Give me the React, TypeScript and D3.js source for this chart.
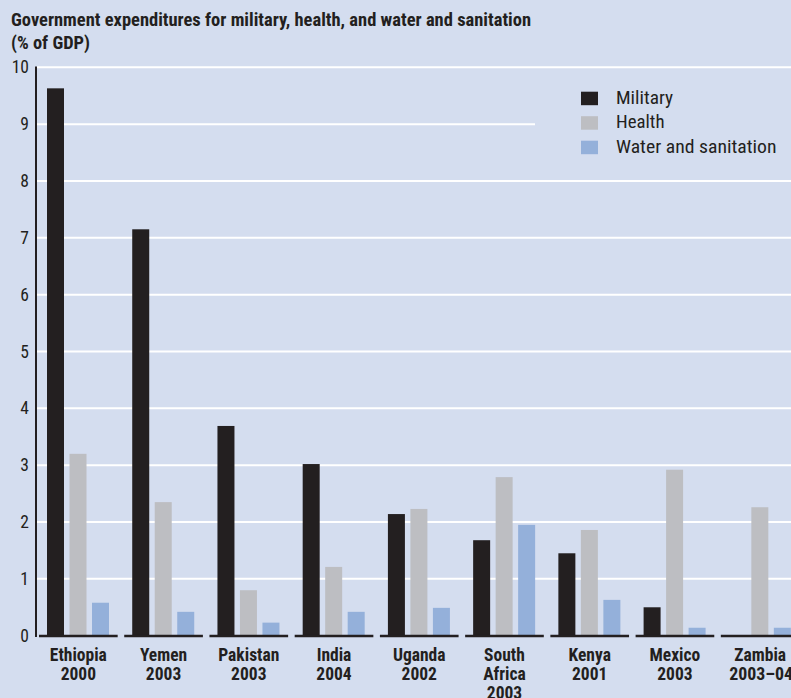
import React from "react";
import * as d3 from "d3";

const categories = [
  ["Ethiopia", "2000"],
  ["Yemen", "2003"],
  ["Pakistan", "2003"],
  ["India", "2004"],
  ["Uganda", "2002"],
  ["South", "Africa", "2003"],
  ["Kenya", "2001"],
  ["Mexico", "2003"],
  ["Zambia", "2003–04"],
];
const military = [9.63, 7.15, 3.69, 3.02, 2.14, 1.68, 1.45, 0.5, 0];
const health = [3.2, 2.35, 0.8, 1.21, 2.23, 2.79, 1.86, 2.92, 2.26];
const water = [0.58, 0.42, 0.23, 0.42, 0.49, 1.95, 0.63, 0.14, 0.14];
const seriesNames = ["Military", "Health", "Water and sanitation"];
const seriesColors = ["#231f20", "#bdbec2", "#94b0da"];
const yTicks = [0, 1, 2, 3, 4, 5, 6, 7, 8, 9, 10];
const titleLines = [
  "Government expenditures for military, health, and water and sanitation",
  "(% of GDP)",
];

const W = 791;
const H = 698;
const FONT = "'Liberation Sans Narrow', 'Roboto Condensed', 'Arial Narrow', sans-serif";
const legendWidths = [57, 48.5, 160.5];

export default function App() {
  const y = d3.scaleLinear().domain([0, 10]).range([635.7, 67.3]);
  const x0 = d3
    .scaleBand<number>()
    .domain(d3.range(categories.length))
    .range([39, 39 + 84.5 * 9])
    .paddingInner(6.5 / 84.5)
    .paddingOuter(0);
  const x1 = d3
    .scaleBand<number>()
    .domain([0, 1, 2])
    .range([8, 70])
    .paddingInner(5.5 / 22.5)
    .paddingOuter(0);
  const series = [military, health, water];

  return (
    <svg
      width={W}
      height={H}
      style={{ position: "absolute", left: 0, top: 0, display: "block" }}
      fontFamily={FONT}
    >
      <rect x={0} y={0} width={W} height={H} fill="#d4ddef" />
      <text
        x={11}
        y={26}
        fontSize={18}
        fontWeight="bold"
        fill="#231f20"
        textLength={520}
        lengthAdjust="spacingAndGlyphs"
      >
        {titleLines[0]}
      </text>
      <text x={11} y={49} fontSize={18} fontWeight="bold" fill="#231f20" textLength={79} lengthAdjust="spacingAndGlyphs">
        {titleLines[1]}
      </text>
      {yTicks.map((t) =>
        t === 0 ? null : (
          <line
            key={"g" + t}
            x1={37}
            x2={t === 9 ? 535 : W}
            y1={y(t)}
            y2={y(t)}
            stroke="#ffffff"
            strokeWidth={2}
          />
        )
      )}
      {yTicks.map((t) => (
        <text
          key={"t" + t}
          x={29}
          y={y(t) + 6}
          textAnchor="end"
          fontSize={17.5}
          fill="#231f20"
        >
          {t}
        </text>
      ))}
      {series.map((vals, si) =>
        vals.map((v, i) =>
          v > 0 ? (
            <rect
              key={si + "-" + i}
              x={(x0(i) as number) + (x1(si) as number)}
              y={y(v)}
              width={x1.bandwidth()}
              height={y(0) - y(v)}
              fill={seriesColors[si]}
            />
          ) : null
        )
      )}
      <line x1={36} x2={36} y1={66.5} y2={637} stroke="#231f20" strokeWidth={2} />
      {categories.map((c, i) => (
        <line
          key={"b" + i}
          x1={x0(i) as number}
          x2={(x0(i) as number) + x0.bandwidth()}
          y1={636}
          y2={636}
          stroke="#231f20"
          strokeWidth={2.5}
        />
      ))}
      {categories.map((lines, i) => (
        <text
          key={"c" + i}
          textAnchor="middle"
          fontSize={17.5}
          fontWeight="bold"
          fill="#231f20"
        >
          {lines.map((l, k) => (
            <tspan
              key={k}
              x={(x0(i) as number) + x0.bandwidth() / 2 + (l === "2003–04" ? 1 : 0)}
              y={660.5 + k * 19}
              textLength={l === "2003–04" ? 64 : undefined}
              lengthAdjust="spacingAndGlyphs"
            >
              {l}
            </tspan>
          ))}
        </text>
      ))}
      {seriesNames.map((n, k) => (
        <g key={"l" + k} transform={`translate(581, ${91.7 + k * 24.5})`}>
          <rect x={0} y={0} width={17} height={13.5} fill={seriesColors[k]} />
          <text
            x={35}
            y={12}
            fontSize={18}
            fill="#231f20"
            textLength={legendWidths[k]}
            lengthAdjust="spacingAndGlyphs"
          >
            {n}
          </text>
        </g>
      ))}
    </svg>
  );
}
